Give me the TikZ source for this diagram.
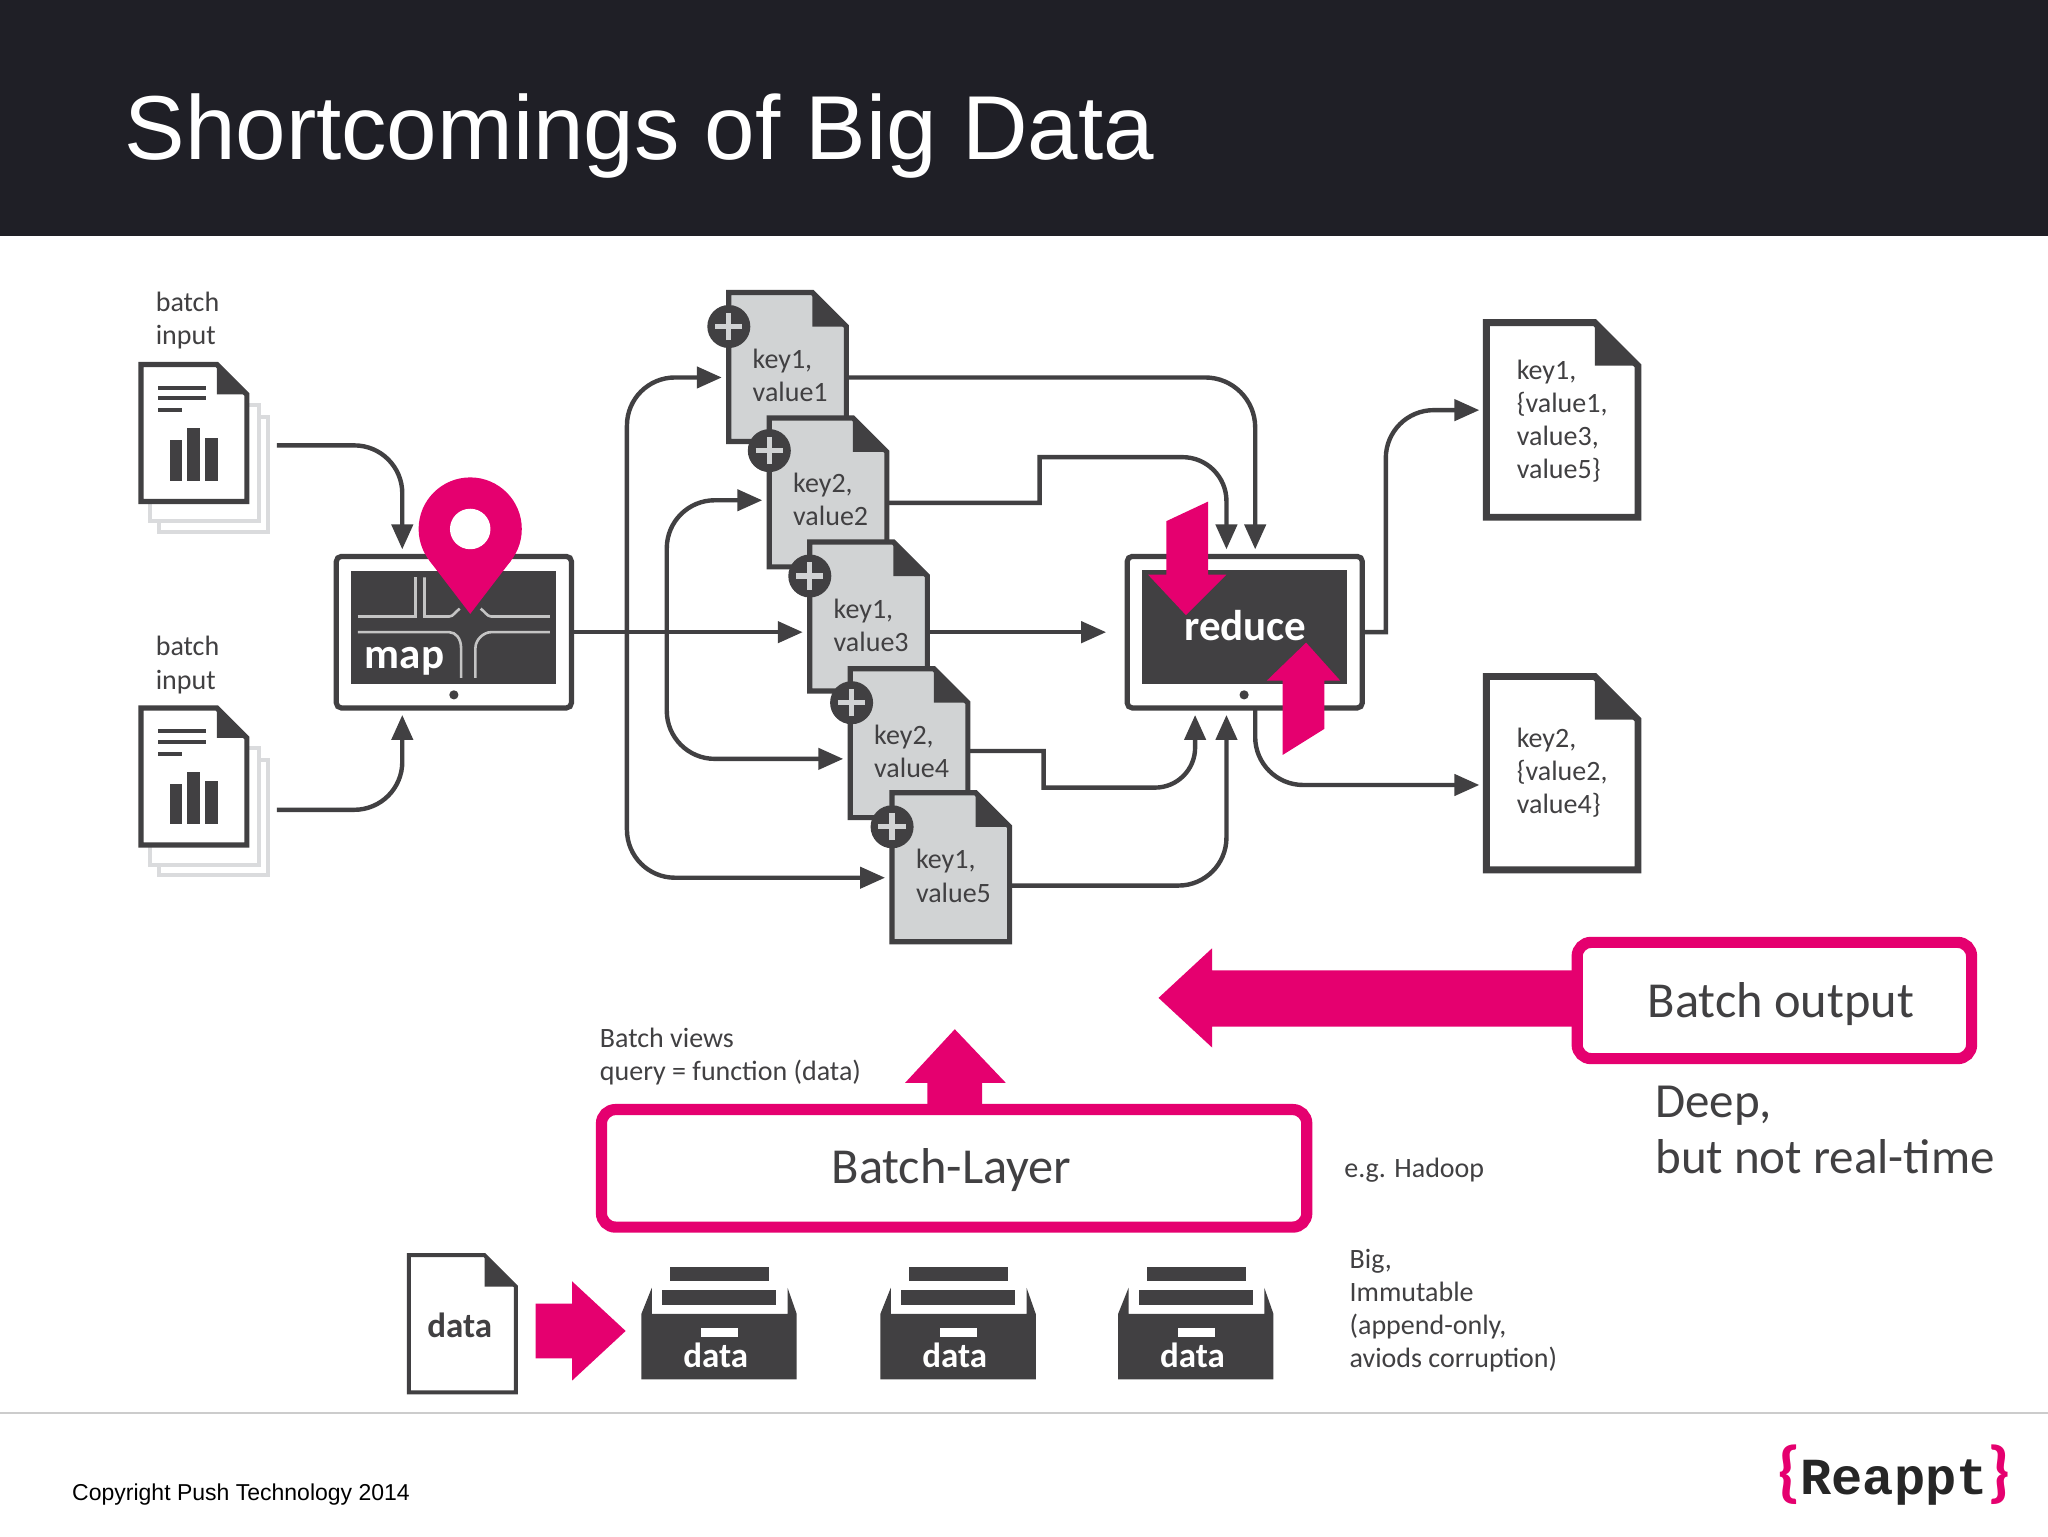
\documentclass[tikz,border=0pt]{standalone}
\usepackage{fontspec}
\setmainfont{Carlito}
\newfontfamily\titlefont{Liberation Sans}
\newfontfamily\logofont{Liberation Mono}
\usetikzlibrary{arrows.meta,calc}
\definecolor{ink}{HTML}{414042}
\definecolor{accent}{HTML}{E5006F}
\definecolor{banner}{HTML}{1F1F26}
\definecolor{sheet}{HTML}{D1D3D4}
\definecolor{backsheet}{HTML}{DADBDD}
\definecolor{road}{HTML}{C4C4C4}
\def\pxu{0.65306pt}
\tikzset{
  flow/.style={draw=ink,line width=2.2pt,-{Triangle[length=12.5pt,width=10.5pt]},shorten >=3.5pt},
  frame/.style={draw=none,inner sep=0pt,outer sep=0pt},
  docwhite/.style={draw=ink,fill=white,line width=2.6pt,miter limit=2},
  docgray/.style={draw=ink,fill=sheet,line width=2.6pt,miter limit=2},
  docthick/.style={draw=ink,fill=white,line width=3.4pt,miter limit=2},
  tablet/.style={draw=ink,fill=white,line width=2.6pt,rounded corners=2.5pt,inner sep=0pt,outer sep=0pt},
  screen/.style={fill=ink,inner sep=0pt,outer sep=0pt},
  homedot/.style={circle,fill=ink,minimum size=4.6pt,inner sep=0pt},
  plusdot/.style={circle,fill=ink,minimum size=21.5pt,inner sep=0pt},
  pinkbox/.style={draw=accent,fill=white,line width=5.6pt,rounded corners=7pt,inner sep=0pt,outer sep=0pt,text=ink},
  label/.style={inner sep=0pt,anchor=north west,align=left,text=ink,font=\fontsize{14}{16.6}\selectfont},
  biglabel/.style={inner sep=0pt,text=ink,font=\fontsize{25.2}{28}\selectfont},
  boldlabel/.style={inner sep=0pt,anchor=base,text=white,font=\fontsize{17.5}{20}\selectfont\bfseries},
  roadline/.style={draw=road,line width=1.3pt},
}
\newcommand{\docicon}[7]{
  \node [frame,minimum width={(#5-#3)*\pxu},minimum height={(#6-#4)*\pxu}] (#1) at ({(#3+#5)/2},{(#4+#6)/2}) {};
  \draw [#2] (#1.north west) -- ([xshift=-#7*\pxu]#1.north east) -- ([yshift=-#7*\pxu]#1.north east) -- (#1.south east) -- (#1.south west) -- cycle;
  \fill [ink] ([xshift=-#7*\pxu]#1.north east) -- ([yshift=-#7*\pxu]#1.north east) -- ([xshift=-#7*\pxu,yshift=-#7*\pxu]#1.north east) -- cycle;
}
\newcommand{\plusmark}[3]{
  \node [plusdot] (#1) at (#2,#3) {};
  \draw [sheet,line width=2.6pt] ([xshift=-6.8pt]#1.center) -- ([xshift=6.8pt]#1.center);
  \draw [sheet,line width=2.6pt] ([yshift=-6.8pt]#1.center) -- ([yshift=6.8pt]#1.center);
}
\newcommand{\drawer}[2]{
  \fill [ink] (#2,1056) -- (#2,1006) -- (#2+8,986) -- (#2+8,1006) -- (#2+112,1006) -- (#2+112,986) -- (#2+119,1006) -- (#2+119,1056) -- cycle;
  \fill [ink] (#2+22,970) rectangle (#2+98,981);
  \fill [ink] (#2+16,988) rectangle (#2+103,999);
  \fill [white] (#2+46,1017) rectangle (#2+74,1024);
  \node [boldlabel] (#1) at (#2+57,1047) {data};
}
\begin{document}
\begin{tikzpicture}[x=\pxu,y=-\pxu]
\useasboundingbox (0,0) rectangle (1568,1176);
\fill [white] (0,0) rectangle (1568,1176);
\fill [banner] (0,0) rectangle (1568,181);
\node [anchor=base west,inner sep=0pt,text=white,font=\titlefont\fontsize{45.4}{50}\selectfont] (title) at (95,122) {Shortcomings of Big Data};
\draw [backsheet,line width=2pt] (190,310) -- (198,310) -- (198,399) -- (115,399) -- (115,385);
\draw [backsheet,line width=2pt] (198,319) -- (205,319) -- (205,407) -- (122,407) -- (122,399);
\draw [backsheet,line width=2pt] (190,573) -- (198,573) -- (198,662) -- (115,662) -- (115,648);
\draw [backsheet,line width=2pt] (198,582) -- (205,582) -- (205,670) -- (122,670) -- (122,662);
\docicon{inA}{docwhite}{108}{279}{189}{384}{23}
\docicon{inB}{docwhite}{108}{542}{189}{647}{23}
\fill [ink] (121,295.5) rectangle (158,298.5);
\fill [ink] (121,303.5) rectangle (158,306.5);
\fill [ink] (121,312.5) rectangle (139,315.5);
\fill [ink] (130,337) rectangle (139,368);
\fill [ink] (143,328) rectangle (153,368);
\fill [ink] (157,335) rectangle (167,368);
\fill [ink] (121,558.5) rectangle (158,561.5);
\fill [ink] (121,566.5) rectangle (158,569.5);
\fill [ink] (121,575.5) rectangle (139,578.5);
\fill [ink] (130,600) rectangle (139,631);
\fill [ink] (143,591) rectangle (153,631);
\fill [ink] (157,598) rectangle (167,631);
\node [label] (inAtext) at (119,223) {batch\\input};
\node [label] (inBtext) at (119,487) {batch\\input};
\node [tablet,minimum width={180*\pxu},minimum height={116*\pxu}] (map) at (347.5,484) {};
\node [screen,minimum width={157*\pxu},minimum height={87*\pxu}] (mapscreen) at (347.5,480.5) {};
\node [homedot] (mapdot) at (347.5,532) {};
\draw [roadline] (274,472) -- (318,472) -- (318,442);
\draw [roadline] (325,442) -- (325,472) -- (344,472) .. controls (347,472) and (349,468) .. (352,466);
\draw [roadline] (421,472) -- (376,472) .. controls (373,472) and (371,468) .. (368,466);
\draw [roadline] (274,484) -- (344,484) .. controls (349,484) and (353,489) .. (353,496) -- (353,519);
\draw [roadline] (421,484) -- (376,484) .. controls (370,484) and (364,490) .. (364,496) -- (364,519);
\node [boldlabel,anchor=base west,font=\fontsize{21.5}{24}\selectfont\bfseries] (maptext) at (279,512) {map};
\node [circle,fill=accent,minimum size={79*\pxu},inner sep=0pt] (pin) at (360,405) {};
\fill [accent] (360,470) -- (328.6,429) -- (391.4,429) -- cycle;
\node [circle,fill=white,minimum size={31*\pxu},inner sep=0pt] (pinhole) at (360,405) {};
\draw [flow,rounded corners=24pt] (212,341) -| (308,0 |- map.north);
\draw [flow,rounded corners=24pt] (212,620) -| (308,0 |- map.south);
\docicon{kOne}{docgray}{558}{224}{648}{338}{26}
\docicon{kTwo}{docgray}{589}{320}{679}{434}{26}
\docicon{kThree}{docgray}{620}{415}{710}{529}{26}
\docicon{kFour}{docgray}{651}{512}{741}{626}{26}
\docicon{kFive}{docgray}{683}{607}{773}{721}{26}
\plusmark{plusOne}{558}{250}
\plusmark{plusTwo}{589}{345}
\plusmark{plusThree}{620}{441}
\plusmark{plusFour}{652}{538}
\plusmark{plusFive}{683}{633}
\node [label] (kOnetext) at (576,267) {key1,\\value1};
\node [label] (kTwotext) at (607,362) {key2,\\value2};
\node [label] (kThreetext) at (638,458) {key1,\\value3};
\node [label] (kFourtext) at (669,555) {key2,\\value4};
\node [label] (kFivetext) at (701,650) {key1,\\value5};
\draw [flow] (map.east) -- (kThree.west |- map.east);
\draw [flow,rounded corners=24pt] (480,0 |- map.east) |- (kOne.west |- 0,289);
\draw [flow,rounded corners=24pt] (480,0 |- map.east) |- (kFive.west |- 0,672);
\draw [flow,rounded corners=24pt] (510.5,0 |- map.east) |- (kTwo.west |- 0,383);
\draw [flow,rounded corners=24pt] (510.5,0 |- map.east) |- (kFour.west |- 0,581);
\node [tablet,minimum width={180*\pxu},minimum height={116*\pxu}] (reduce) at (953,484) {};
\node [screen,minimum width={157*\pxu},minimum height={87*\pxu}] (reducescreen) at (952.5,480) {};
\node [homedot] (reducedot) at (952.5,532) {};
\node [boldlabel,font=\fontsize{21.5}{24}\selectfont\bfseries] (reducetext) at (953.5,490) {reduce};
\draw [flow,rounded corners=25pt] (kOne.east |- 0,289) -| (961,0 |- reduce.north);
\draw [flow] (kTwo.east |- 0,385) -- (796,385) -- (796,350) [rounded corners=22pt] -| (939,0 |- reduce.north);
\draw [flow,shorten >=10.5pt] (kThree.east |- map.east) -- (reduce.west |- map.east);
\draw [flow] (kFour.east |- 0,575) -- (799,575) -- (799,603) [rounded corners=20pt] -| (915,0 |- reduce.south);
\draw [flow,rounded corners=24pt] (kFive.east |- 0,678) -| (939,0 |- reduce.south);
\fill [accent] (893,399) -- (925,384) -- (925,440) -- (939,440) -- (908,471) -- (879,440) -- (893,440) -- cycle;
\fill [accent] (982,578) -- (1014,558) -- (1014,521) -- (1026,521) -- (1000,492) -- (970,521) -- (982,521) -- cycle;
\docicon{outOne}{docthick}{1138}{247}{1254}{396}{33}
\docicon{outTwo}{docthick}{1138}{518}{1254}{666}{33}
\node [label] (outOnetext) at (1161,275) {key1,\\\{value1,\\value3,\\value5\}};
\node [label] (outTwotext) at (1161,557) {key2,\\\{value2,\\value4\}};
\draw [flow] (reduce.east) -- (1061,0 |- reduce.east) [rounded corners=24pt] |- (outOne.west |- 0,314);
\draw [flow,rounded corners=24pt] (961,0 |- reduce.south) |- (outTwo.west |- 0,601);
\fill [accent] (1210,743) -- (928,743) -- (928,726) -- (887,764) -- (928,802) -- (928,786) -- (1210,786) -- cycle;
\node [pinkbox,minimum width={302*\pxu},minimum height={89*\pxu}] (batchout) at (1358.5,766) {};
\node [biglabel,anchor=base] (batchouttext) at (1363.5,779) {Batch output};
\fill [accent] (710,850) -- (710,829) -- (693,829) -- (731,788) -- (770,829) -- (752,829) -- (752,850) -- cycle;
\node [pinkbox,minimum width={540*\pxu},minimum height={90*\pxu}] (layer) at (730.5,894.5) {};
\node [biglabel,anchor=base] (layertext) at (728.5,906) {Batch-Layer};
\node [label] (viewstext) at (459,787) {Batch views\\query = function (data)};
\node [label] (hadooptext) at (1029,886) {e.g. Hadoop};
\node [label] (bigtext) at (1033,956) {Big,\\Immutable\\(append-only,\\aviods corruption)};
\node [biglabel,anchor=north west,align=left,font=\fontsize{24.5}{28}\selectfont] (deeptext) at (1267,831) {Deep,\\but not real-time};
\docicon{rawdata}{docwhite,line width=2pt}{313}{961}{395}{1066}{24}
\node [boldlabel,text=ink] (rawtext) at (352,1024) {data};
\fill [accent] (410,998) -- (438,998) -- (438,981) -- (479,1019) -- (438,1057) -- (438,1040) -- (410,1040) -- cycle;
\drawer{drawerOne}{491}
\drawer{drawerTwo}{674}
\drawer{drawerThree}{856}
\draw [line width=0.8pt,draw=black!20] (0,1082) -- (1568,1082);
\node [anchor=base west,inner sep=0pt,font=\titlefont\fontsize{11.5}{14}\selectfont] (copyright) at (55,1149) {Copyright Push Technology 2014};
\node [anchor=base east,inner sep=0pt,text=black!85,font=\logofont\bfseries\fontsize{26}{30}\selectfont] (logo) at (1540,1144) {\textcolor{accent}{\normalfont\bfseries\fontsize{34}{34}\selectfont\{}Reappt\textcolor{accent}{\normalfont\bfseries\fontsize{34}{34}\selectfont\}}};
\end{tikzpicture}
\end{document}
